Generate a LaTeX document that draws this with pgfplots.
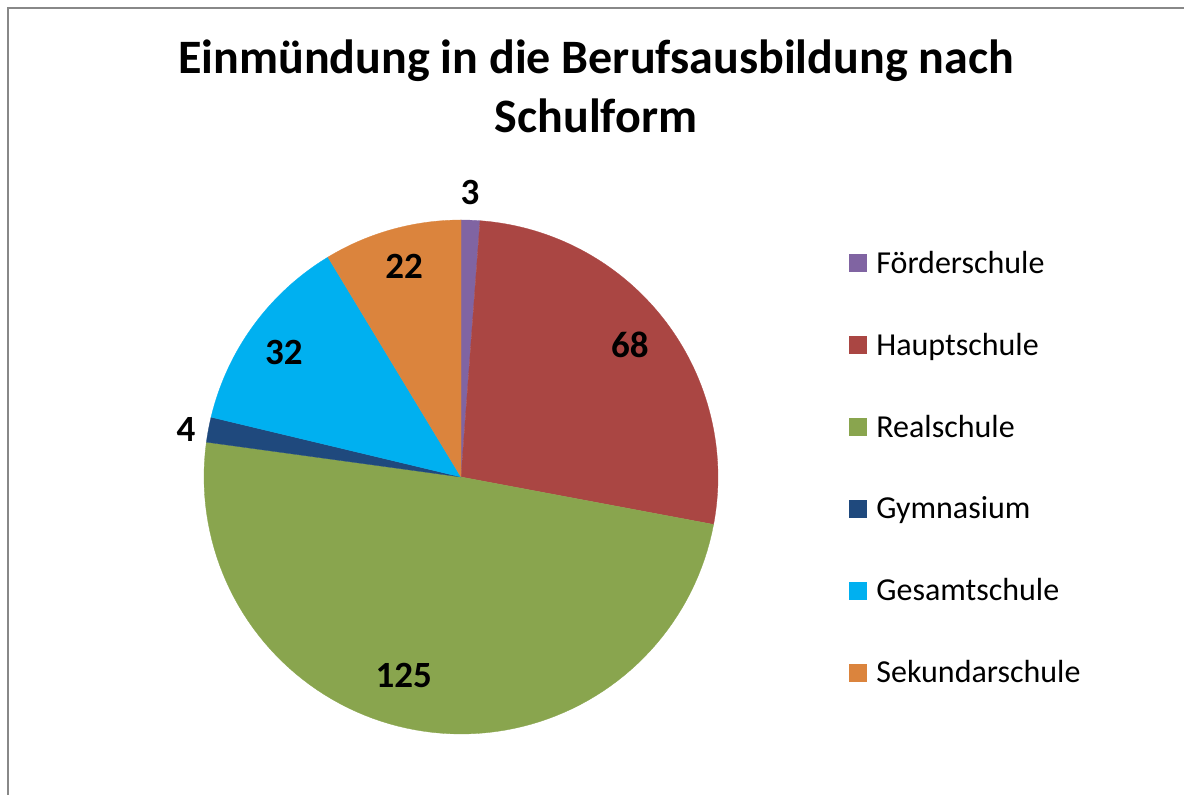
\documentclass[border=0pt]{standalone}
\usepackage{pgfplots}
\usepackage{pgfplotstable}
\pgfplotsset{compat=1.18}
\usepackage{fontspec}
\setmainfont{Carlito}
\definecolor{cA}{HTML}{8064A2}
\definecolor{cB}{HTML}{AA4643}
\definecolor{cC}{HTML}{89A54E}
\definecolor{cD}{HTML}{1F497D}
\definecolor{cE}{HTML}{00B0F0}
\definecolor{cF}{HTML}{DB843D}
\definecolor{frame}{HTML}{888888}

\pgfplotstableread[col sep=comma]{
name,value,color,lang,lrad
Förderschule,3,cA,88.2,1.106
Hauptschule,68,cB,38.0,0.834
Realschule,125,cC,253.9,0.802
Gymnasium,4,cD,170.3,1.086
Gesamtschule,32,cE,144.8,0.843
Sekundarschule,22,cF,105.1,0.850
}\piedata

\begin{document}
\begin{tikzpicture}
\useasboundingbox (0pt,0pt) rectangle (1184pt,795pt);
\draw[frame, line width=1.2pt] (8pt,0pt) -- (8pt,787pt) -- (1184pt,787pt);
\node[font=\bfseries\fontsize{48}{59}\selectfont, align=center, anchor=base] at (596pt,662pt) {Einmündung in die Berufsausbildung nach\\Schulform};
% total
\def\total{0}
\pgfplotsforeachungrouped \i in {0,...,5}{%
  \pgfplotstablegetelem{\i}{value}\of\piedata
  \pgfmathsetmacro{\total}{\total+\pgfplotsretval}%
}
\begin{axis}[
  at={(461pt,318pt)}, anchor=center,
  width=514pt, height=514pt, scale only axis,
  xmin=-1, xmax=1, ymin=-1, ymax=1,
  hide axis, clip=false,
  legend image code/.code={\fill[#1] (0pt,-8.5pt) rectangle (17pt,8.5pt);},
  legend style={draw=none, fill=none, inner sep=0pt, outer sep=0pt,
    at={(1.255,0.94)}, anchor=north west,
    font=\fontsize{32}{38}\selectfont,
    row sep=58.3pt,
    nodes={inner sep=0pt, anchor=west},
    /tikz/every odd column/.style={column sep=10pt}},
  legend cell align=left,
]
\def\cum{0}
\pgfplotsforeachungrouped \i in {0,...,5}{%
  \pgfplotstablegetelem{\i}{value}\of\piedata \let\val\pgfplotsretval
  \pgfplotstablegetelem{\i}{color}\of\piedata \let\col\pgfplotsretval
  \pgfplotstablegetelem{\i}{name}\of\piedata \let\nm\pgfplotsretval
  \pgfplotstablegetelem{\i}{lang}\of\piedata \let\la\pgfplotsretval
  \pgfplotstablegetelem{\i}{lrad}\of\piedata \let\lr\pgfplotsretval
  \pgfmathsetmacro{\aa}{90-\cum/\total*360}%
  \pgfmathsetmacro{\bb}{90-(\cum+\val)/\total*360}%
  \pgfmathsetmacro{\lx}{\lr*cos(\la)}%
  \pgfmathsetmacro{\ly}{\lr*sin(\la)}%
  \edef\cmd{%
    \noexpand\addplot[fill=\col, draw=\col, line width=0.3pt, domain=\bb:\aa, samples=90]
      ({cos(x)},{sin(x)}) -- (axis cs:0,0) -- cycle;
    \noexpand\addlegendentry{\nm}
    \noexpand\node[font=\noexpand\bfseries\noexpand\fontsize{37}{44}\noexpand\selectfont] at (axis cs:\lx,\ly) {\val};
  }%
  \cmd
  \pgfmathsetmacro{\cum}{\cum+\val}%
}
\end{axis}
\end{tikzpicture}
\end{document}
